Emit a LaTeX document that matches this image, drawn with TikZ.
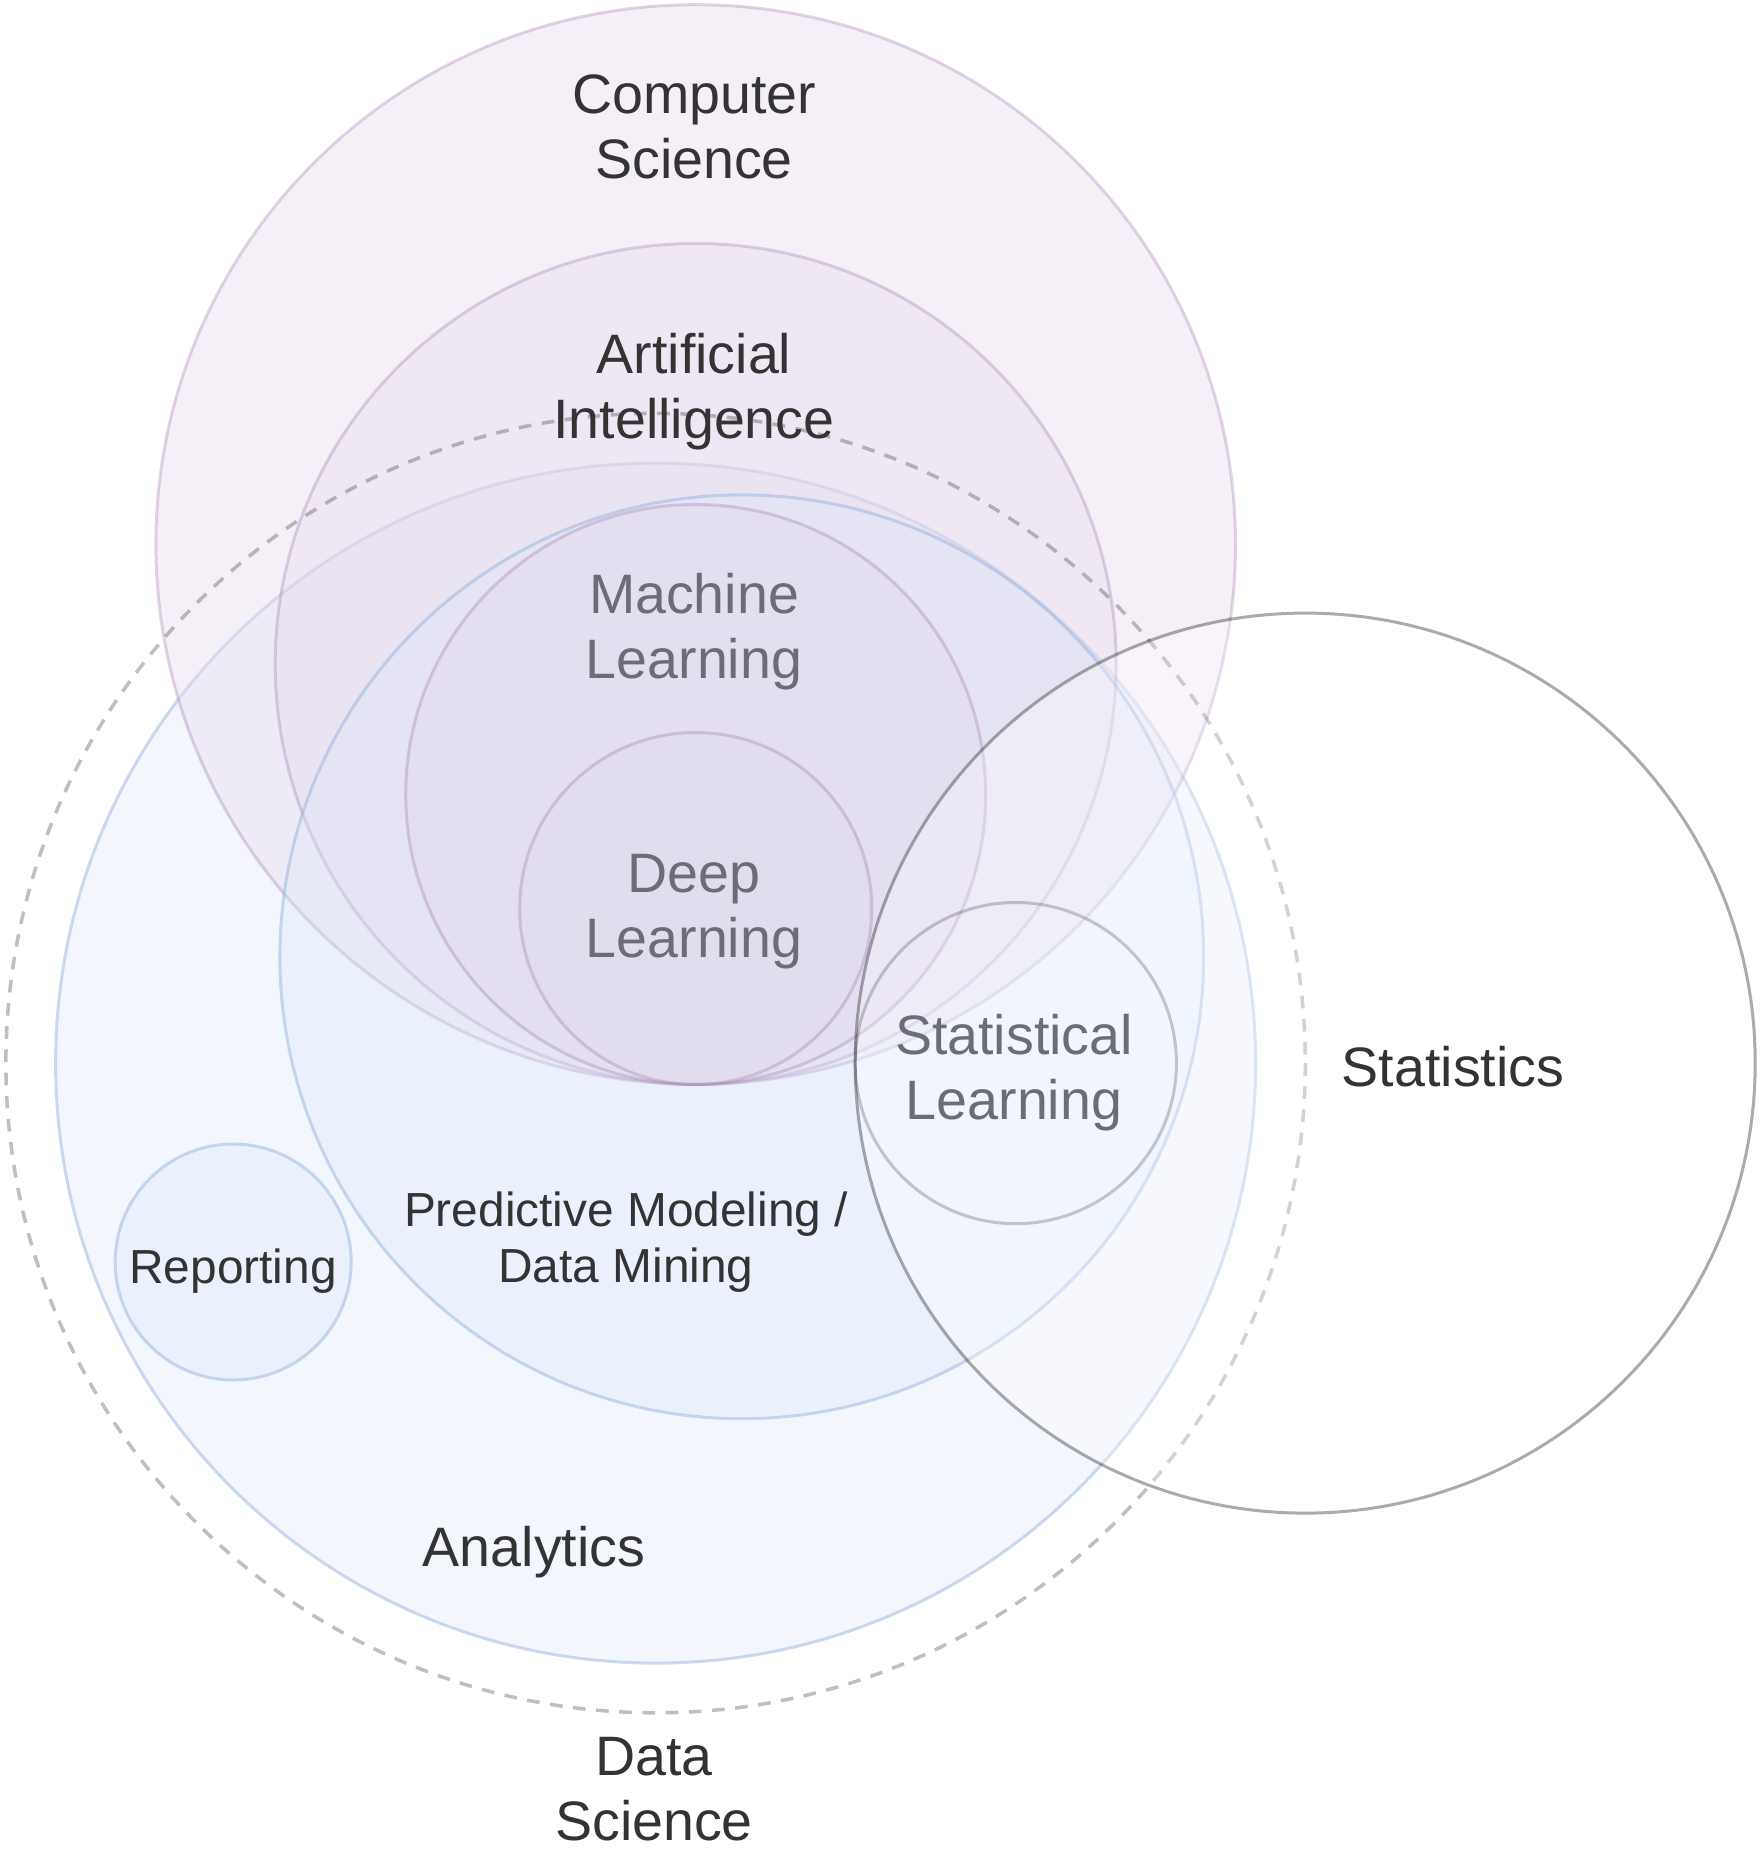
\documentclass[tikz,border=0pt]{standalone}
\usepackage{fontspec}
\setmainfont{Liberation Sans}

\definecolor{csline}{HTML}{9B72AA}
\definecolor{csfill}{HTML}{E8DCEE}
\definecolor{aifill}{HTML}{E2D4EA}
\definecolor{mlfill}{HTML}{DECEE6}
\definecolor{anfill}{HTML}{DCE6FA}
\definecolor{anline}{HTML}{8FAEDC}
\definecolor{txtdark}{HTML}{333333}
\definecolor{txtgray}{HTML}{6A6D77}

\tikzset{
  cscirc/.style={draw=csline, draw opacity=0.3, line width=0.85pt},
  ancirc/.style={draw=anline, draw opacity=0.45, fill=anfill, line width=0.85pt},
  dscirc/.style={draw=black, draw opacity=0.25, line width=1pt, dash pattern=on 3.6pt off 3pt},
  stcirc/.style={draw=black, draw opacity=0.33, fill=white, fill opacity=0.3, line width=0.85pt},
  slcirc/.style={draw=black, draw opacity=0.2, line width=0.85pt},
  lbl/.style={font=\fontsize{15.8}{18.5}\selectfont, text=txtdark, align=center, inner sep=0pt},
  lblsmall/.style={font=\fontsize{13.6}{15.8}\selectfont, text=txtdark, align=center, inner sep=0pt}
}

\begin{document}
\begin{tikzpicture}[x=0.01cm,y=-0.01cm]
  \useasboundingbox (0,0) rectangle (1760,1852);

  % Analytics
  \draw[ancirc, fill opacity=0.35] (655.6,1063.1) circle (600);

  % Computer Science, AI
  \draw[cscirc, fill=csfill, fill opacity=0.43] (695.7,544.5) circle (539.8);
  \draw[cscirc, fill=aifill, fill opacity=0.3]  (695.7,664)   circle (420.5);

  % Predictive modeling
  \draw[ancirc, fill opacity=0.33] (741.8,956.8) circle (461.9);

  % ML, DL
  \draw[cscirc, fill=mlfill, fill opacity=0.25] (695.7,794.5) circle (290);
  \draw[cscirc, fill=mlfill, fill opacity=0.1]  (695.7,908.5) circle (176);

  % Reporting
  \draw[ancirc, fill opacity=0.33] (233.2,1262) circle (118);

  % Data science
  \draw[dscirc] (655.6,1063.1) circle (649.7);

  % Statistics
  \draw[stcirc] (1305.2,1063.1) circle (450);
  \draw[slcirc] (1015.8,1063.1) circle (160.6);

  % labels
  \node[lbl] (cs) at (694,127)  {Computer\\Science};
  \node[lbl] (ai) at (694,392)  {Artificial\\Intelligence};
  \node[lbl, text=txtgray] (ml) at (694,632) {Machine\\Learning};
  \node[lbl, text=txtgray] (dl) at (694,912) {Deep\\Learning};
  \node[lbl, text=txtgray] (sl) at (1014,1073) {Statistical\\Learning};
  \node[lbl] (st) at (1453,1067) {Statistics};
  \node[lblsmall] (pm) at (626,1242) {Predictive Modeling /\\Data Mining};
  \node[lblsmall] (rp) at (233,1271) {Reporting};
  \node[lbl] (an) at (534,1552) {Analytics};
  \node[lbl] (ds) at (654,1789) {Data\\Science};
\end{tikzpicture}
\end{document}
